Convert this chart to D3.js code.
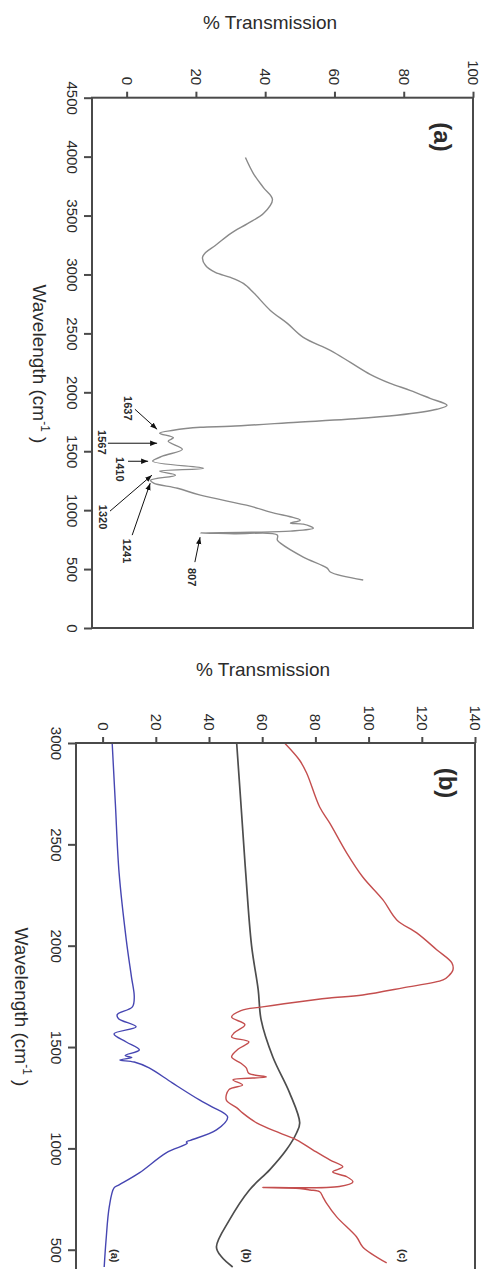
<!DOCTYPE html>
<html>
<head>
<meta charset="utf-8">
<script src="https://cdn.jsdelivr.net/npm/d3@7"></script>
<style>
  body { margin: 0; background: #fff; }
  svg { display: block; }
  text { font-family: "Liberation Sans", Arial, Helvetica, sans-serif; fill: #2b2b2b; }
</style>
</head>
<body>
<svg id="chart" width="486" height="1269"></svg>
<script>
// ---- Panel (a): FTIR spectrum, wavenumber (cm-1) vs % transmission ----
const waveA = [3992, 3856, 3737, 3636, 3517, 3432, 3347, 3246, 3186, 3144, 3076, 3017, 2975, 2924,
  2847, 2695, 2585, 2466, 2356, 2254, 2153, 2076, 2017, 1949, 1890, 1856, 1805, 1771, 1746, 1712,
  1703, 1678, 1653, 1615, 1585, 1517, 1460, 1415, 1356, 1331, 1297, 1254, 1229, 1186, 1127, 1034,
  983, 915, 890, 881, 847, 822, 812, 807, 800, 790, 746, 720, 602, 508, 475, 407];
const transA = [34.3, 36.6, 39.5, 42.1, 39.5, 34.9, 30.0, 25.6, 22.8, 21.9, 22.8, 25.6, 30.0, 33.7,
  36.6, 41.5, 46.4, 51.0, 58.8, 64.6, 70.3, 76.1, 81.8, 87.6, 92.5, 89.6, 78.0, 63.7, 49.3, 30.0,
  21.3, 13.5, 9.5, 13.5, 12.0, 16.1, 10.5, 7.5, 22.2, 9.5, 14.1, 6.9, 7.8, 14.7, 21.3, 35.7,
  41.5, 50.1, 47.3, 51.0, 53.9, 47.3, 36.0, 21.3, 31.0, 43.5, 43.5, 44.4, 51.0, 57.9, 58.8, 68.3];

// band assignments marked with arrows
const peakLabels = ["1637", "1567", "1410", "1320", "1241", "807"];
const peakTip  = [[1686, 8.8], [1568, 8.8], [1415, 6.2], [1297, 7.3], [1229, 6.8], [771, 21.2]];
const peakTail = [[1856, 2.4], [1568, -5.4], [1415, 0.4], [992, -4.8], [788, 1.6], [559, 19.7]];
const peakText = [[1864, 0.4], [1576, -7.1], [1347, -1.9], [941, -6.8], [653, 0.1], [432, 18.9]];

const transTicksA = [0, 20, 40, 60, 80, 100];
const waveTicksA = [4500, 4000, 3500, 3000, 2500, 2000, 1500, 1000, 500, 0];

// ---- Panel (b): three spectra, traces (a), (b), (c) ----
const waveBa = [3000, 2700, 2359, 2029, 1850, 1747, 1698, 1660, 1640, 1600, 1565, 1525, 1486, 1458,
  1448, 1436, 1426, 1397, 1323, 1239, 1204, 1155, 1091, 1040, 1032, 1025, 978, 879, 820, 805, 711,
  548, 415];
const transBa = [3.6, 4.8, 6.2, 8.9, 10.8, 11.9, 11.2, 5.5, 6.0, 12.6, 4.3, 8.9, 13.8, 8.5,
  11.0, 6.5, 11.9, 17.5, 26.2, 36.4, 41.3, 47.0, 42.8, 33.0, 31.5, 31.8, 23.9, 13.8, 6.2, 4.3, 2.5,
  1.3, 0.6];

const waveBb = [3000, 2700, 2359, 2000, 1782, 1634, 1451, 1274, 1126, 1076, 993, 894, 795, 647,
  514, 465, 415];
const transBb = [50.4, 52.0, 53.8, 56.0, 58.5, 59.6, 64.0, 70.3, 74.1, 72.9, 69.1, 62.8, 55.2, 47.7,
  42.8, 44.7, 48.9];

const waveBc = [3000, 2916, 2852, 2684, 2605, 2457, 2339, 2226, 2127, 2063, 1979, 1915, 1880, 1850,
  1831, 1792, 1757, 1742, 1732, 1698, 1680, 1648, 1610, 1570, 1550, 1525, 1490, 1451, 1420, 1397,
  1370, 1352, 1338, 1313, 1290, 1239, 1200, 1175, 1126, 1076, 1042, 993, 943, 909, 884, 860, 835,
  812, 807, 802, 795, 786, 761, 731, 662, 563, 514, 435];
const transBc = [68.4, 74.0, 76.7, 81.6, 85.4, 91.8, 97.8, 105.4, 110.6, 118.1, 125.7, 131.3, 131.7, 130.0,
  128.0, 112.9, 97.8, 85.4, 79.0, 60.1, 52.0, 48.5, 53.5, 49.5, 48.5, 55.0, 51.0, 48.5, 52.0, 54.0,
  55.0, 61.6, 49.0, 52.6, 47.5, 46.5, 50.5, 52.6, 57.9, 66.5, 72.9, 79.0, 85.4, 90.3, 86.5, 91.8, 94.1,
  89.0, 60.1, 74.0, 78.0, 81.6, 82.8, 84.1, 88.0, 95.5, 97.8, 106.8];

const traceNames = ["(a)", "(b)", "(c)"];
const traceTagPos = [[470, 4.7], [470, 54.3], [470, 113]];

const transTicksB = [0, 20, 40, 60, 80, 100, 120, 140];
const waveTicksB = [3000, 2500, 2000, 1500, 1000, 500];

const zip = (w, t) => w.map((d, i) => [d, t[i]]);

const svg = d3.select("#chart");

svg.append("defs").append("marker")
  .attr("id", "arrowhead")
  .attr("viewBox", "0 0 10 10")
  .attr("refX", 10).attr("refY", 5)
  .attr("markerWidth", 7).attr("markerHeight", 7)
  .attr("orient", "auto")
  .append("path").attr("d", "M0,1.2 L10,5 L0,8.8 Z").attr("fill", "#111");

// Builds one rotated spectrum panel: % transmission runs left->right,
// wavenumber runs top->bottom.
function buildPanel(o) {
  const g = svg.append("g");
  const x = d3.scaleLinear().domain(o.tDomain).range([o.left, o.right]);
  const y = d3.scaleLinear().domain(o.wDomain).range([o.top, o.bottom]);

  const clipId = "clip" + o.id;
  svg.select("defs").append("clipPath").attr("id", clipId)
    .append("rect").attr("x", o.left).attr("y", o.top)
    .attr("width", o.right - o.left).attr("height", o.bottom - o.top);

  // spectra
  const line = d3.line()
    .curve(d3.curveCatmullRom.alpha(0.5))
    .x(d => x(d[1])).y(d => y(d[0]));
  o.series.forEach(s => {
    g.append("path")
      .datum(s.data)
      .attr("clip-path", `url(#${clipId})`)
      .attr("fill", "none")
      .attr("stroke", s.color)
      .attr("stroke-width", s.width)
      .attr("stroke-linejoin", "round")
      .attr("d", line);
  });

  // frame
  g.append("rect")
    .attr("x", o.left).attr("y", o.top)
    .attr("width", o.right - o.left).attr("height", o.bottom - o.top)
    .attr("fill", "none").attr("stroke", "#4a4a4a").attr("stroke-width", 2);

  // % transmission axis along the top
  const top = g.append("g")
    .attr("transform", `translate(0,${o.top})`)
    .call(d3.axisTop(x).tickValues(o.tTicks).tickSize(6).tickSizeOuter(0).tickFormat(d3.format("d")));
  top.select(".domain").remove();
  top.selectAll(".tick line").attr("stroke", "#4a4a4a").attr("stroke-width", 2);
  top.selectAll(".tick text")
    .attr("y", null).attr("dy", null)
    .attr("transform", "translate(0,-12.5) rotate(90)")
    .attr("text-anchor", "end")
    .attr("dominant-baseline", "central")
    .attr("font-size", 15)
    .attr("fill", "#2b2b2b");

  // wavenumber axis along the left
  const left = g.append("g")
    .attr("transform", `translate(${o.left},0)`)
    .call(d3.axisLeft(y).tickValues(o.wTicks).tickSize(8).tickSizeOuter(0).tickFormat(d3.format("d")));
  left.select(".domain").remove();
  left.selectAll(".tick line").attr("stroke", "#4a4a4a").attr("stroke-width", 2);
  left.selectAll(".tick text")
    .attr("x", null).attr("dy", null)
    .attr("transform", "translate(-20,0) rotate(90)")
    .attr("text-anchor", "middle")
    .attr("dominant-baseline", "central")
    .attr("font-size", 15)
    .attr("fill", "#2b2b2b");

  // axis titles
  g.append("text")
    .attr("x", o.tTitleX).attr("y", o.tTitleY)
    .attr("text-anchor", "middle")
    .attr("font-size", 19)
    .text("% Transmission");

  const wt = g.append("text")
    .attr("transform", `translate(${o.wTitleX},${o.wTitleY}) rotate(90)`)
    .attr("text-anchor", "middle")
    .attr("font-size", 19);
  wt.append("tspan").text("Wavelength (cm");
  wt.append("tspan").attr("font-size", 12).attr("dy", -8).text("-1");
  wt.append("tspan").attr("dy", 8).text(" )");

  // panel tag
  g.append("text")
    .attr("transform", `translate(${o.tagX},${o.tagY}) rotate(90)`)
    .attr("text-anchor", "middle")
    .attr("dominant-baseline", "central")
    .attr("font-size", 24)
    .attr("font-weight", "bold")
    .attr("fill", "#111")
    .text(o.tag);

  return { g, x, y };
}

// Panel (a)
const pa = buildPanel({
  id: "A", left: 92, right: 473, top: 97.7, bottom: 628,
  tDomain: [-10, 100], wDomain: [4500, 0],
  tTicks: transTicksA, wTicks: waveTicksA,
  tTitleX: 270, tTitleY: 29, wTitleX: 33, wTitleY: 364,
  tag: "(a)", tagX: 442, tagY: 137,
  series: [{ data: zip(waveA, transA), color: "#8a8a8a", width: 1.4 }]
});

// band labels with arrows
peakLabels.forEach((lab, i) => {
  pa.g.append("line")
    .attr("x1", pa.x(peakTail[i][1])).attr("y1", pa.y(peakTail[i][0]))
    .attr("x2", pa.x(peakTip[i][1])).attr("y2", pa.y(peakTip[i][0]))
    .attr("stroke", "#111").attr("stroke-width", 1)
    .attr("marker-end", "url(#arrowhead)");
  pa.g.append("text")
    .attr("transform", `translate(${pa.x(peakText[i][1])},${pa.y(peakText[i][0])}) rotate(90)`)
    .attr("text-anchor", "middle")
    .attr("dominant-baseline", "central")
    .attr("font-size", 11)
    .attr("font-weight", "bold")
    .attr("fill", "#111")
    .text(lab);
});

// Panel (b)
const pb = buildPanel({
  id: "B", left: 76, right: 475, top: 743, bottom: 1270,
  tDomain: [-10, 140], wDomain: [3000, 400],
  tTicks: transTicksB, wTicks: waveTicksB,
  tTitleX: 263, tTitleY: 676, wTitleX: 14.5, wTitleY: 1007,
  tag: "(b)", tagX: 447, tagY: 783,
  series: [
    { data: zip(waveBa, transBa), color: "#4646b2", width: 1.4 },
    { data: zip(waveBb, transBb), color: "#4d4d4d", width: 1.7 },
    { data: zip(waveBc, transBc), color: "#c44e4e", width: 1.4 }
  ]
});

traceNames.forEach((lab, i) => {
  pb.g.append("text")
    .attr("transform", `translate(${pb.x(traceTagPos[i][1])},${pb.y(traceTagPos[i][0])}) rotate(90)`)
    .attr("text-anchor", "middle")
    .attr("dominant-baseline", "central")
    .attr("font-size", 11)
    .attr("font-weight", "bold")
    .attr("fill", "#111")
    .text(lab);
});
</script>
</body>
</html>
